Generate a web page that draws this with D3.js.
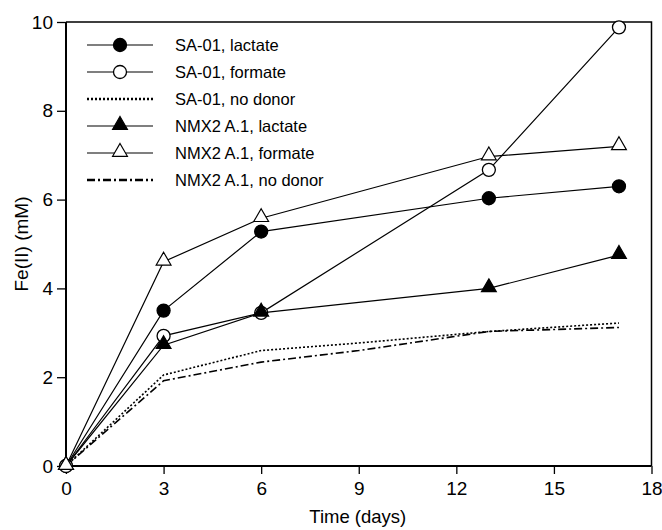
<!DOCTYPE html>
<html>
<head>
  <meta charset="utf-8">
  <title>Fe(II) vs time</title>
  <style>
    body { margin: 0; background: #fff; }
    svg { display: block; font-family: "Liberation Sans", Arial, sans-serif; }
  </style>
</head>
<body>
  <svg id="chart" width="662" height="530"></svg>
  <script src="https://d3js.org/d3.v7.min.js"></script>
  <script>
    // data
    const saLactate   = [[0, 0], [3, 3.5], [6, 5.28], [13, 6.03], [17, 6.3]];
    const saFormate   = [[0, 0], [3, 2.93], [6, 3.45], [13, 6.67], [17, 9.88]];
    const saNoDonor   = [[0, 0], [3, 2.05], [6, 2.6], [9, 2.77], [13, 3.03], [17, 3.22]];
    const nmxLactate  = [[0, 0], [3, 2.72], [6, 3.45], [13, 4.0], [17, 4.75]];
    const nmxFormate  = [[0, 0], [3, 4.6], [6, 5.58], [13, 6.97], [17, 7.2]];
    const nmxNoDonor  = [[0, 0], [3, 1.92], [6, 2.34], [9, 2.6], [13, 3.03], [17, 3.12]];

    const xTicks = [0, 3, 6, 9, 12, 15, 18];
    const yTicks = [0, 2, 4, 6, 8, 10];

    const series = [
      { name: "SA-01, lactate", data: saLactate, marker: "circle", fill: "#000", dash: null },
      { name: "SA-01, formate", data: saFormate, marker: "circle", fill: "#fff", dash: null },
      { name: "SA-01, no donor", data: saNoDonor, marker: null, dash: "2,2" },
      { name: "NMX2 A.1, lactate", data: nmxLactate, marker: "triangle", fill: "#000", dash: null },
      { name: "NMX2 A.1, formate", data: nmxFormate, marker: "triangle", fill: "#fff", dash: null },
      { name: "NMX2 A.1, no donor", data: nmxNoDonor, marker: null, dash: "8,3,2,3" }
    ];

    const svg = d3.select("#chart");
    const mLeft = 66, mRight = 651.5, mTop = 22, mBottom = 466;

    const x = d3.scaleLinear().domain([0, 18]).range([mLeft, mRight]);
    const y = d3.scaleLinear().domain([0, 10]).range([mBottom, mTop]);

    // frame top / right
    svg.append("path")
      .attr("d", `M${mLeft},${mTop}H${mRight}V${mBottom}`)
      .attr("fill", "none").attr("stroke", "#000").attr("stroke-width", 1.5);

    // axes
    const xAxis = svg.append("g").attr("transform", `translate(0,${mBottom})`)
      .call(d3.axisBottom(x).tickValues(xTicks).tickSize(8).tickPadding(8));
    const yAxis = svg.append("g").attr("transform", `translate(${mLeft},0)`)
      .call(d3.axisLeft(y).tickValues(yTicks).tickSize(9).tickPadding(4));

    [xAxis, yAxis].forEach(a => {
      a.select(".domain").attr("stroke-width", 2).attr("stroke", "#000");
      a.selectAll(".tick line").attr("stroke", "#000").attr("stroke-width", 1.3);
      a.selectAll(".tick text").attr("fill", "#000")
        .style("font-size", "19px").style("font-family", "Liberation Sans, Arial, sans-serif");
    });
    xAxis.select(".domain").attr("d", `M${mLeft},0H${mRight}`);
    yAxis.select(".domain").attr("d", `M0,${mBottom}V${mTop}`);

    // axis titles
    svg.append("text")
      .attr("x", (mLeft + mRight) / 2 - 1).attr("y", 523)
      .attr("text-anchor", "middle").style("font-size", "18.5px")
      .text("Time (days)");
    svg.append("text")
      .attr("transform", `translate(28,244) rotate(-90)`)
      .attr("text-anchor", "middle").style("font-size", "19px")
      .text("Fe(II) (mM)");

    const line = d3.line().x(d => x(d[0])).y(d => y(d[1]));
    const tri = d3.symbol().type(d3.symbolTriangle).size(95);

    function drawMarker(sel, s) {
      if (s.marker === "circle") {
        sel.append("circle").attr("r", 6.5)
          .attr("fill", s.fill).attr("stroke", "#000").attr("stroke-width", 1.3);
      } else if (s.marker === "triangle") {
        sel.append("path").attr("d", tri).attr("transform", "translate(0,-1)")
          .attr("fill", s.fill).attr("stroke", "#000").attr("stroke-width", 1.2);
      }
    }

    // lines first, then markers on top
    series.forEach(s => {
      svg.append("path").datum(s.data)
        .attr("d", line)
        .attr("fill", "none").attr("stroke", "#000")
        .attr("stroke-width", s.dash ? 1.6 : 1.2)
        .attr("stroke-dasharray", s.dash);
    });
    series.forEach(s => {
      if (!s.marker) return;
      svg.append("g").selectAll("g")
        .data(s.data).enter().append("g")
        .attr("transform", d => `translate(${x(d[0])},${y(d[1])})`)
        .each(function () { drawMarker(d3.select(this), s); });
    });

    // legend
    const legend = svg.append("g");
    series.forEach((s, i) => {
      const ly = 45 + i * 27;
      const row = legend.append("g").attr("transform", `translate(0,${ly})`);
      row.append("line").attr("x1", 87).attr("x2", 153)
        .attr("stroke", "#000").attr("stroke-width", s.dash ? 2.5 : 1.2)
        .attr("stroke-dasharray", s.dash);
      const m = row.append("g").attr("transform", "translate(120,0)");
      drawMarker(m, s);
      row.append("text").attr("x", 175).attr("y", 6)
        .style("font-size", "16.5px").text(s.name);
    });
  </script>
</body>
</html>
